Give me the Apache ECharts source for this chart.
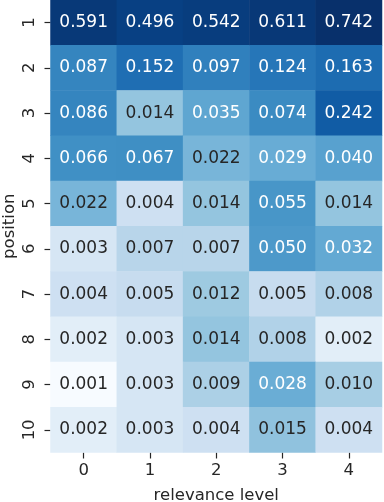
<!DOCTYPE html>
<html lang="en">
<head>
  <meta charset="UTF-8">
  <title>heatmap</title>
  <script src="https://cdn.jsdelivr.net/npm/echarts@6/dist/echarts.min.js"></script>
  <style>
    html, body { margin: 0; padding: 0; background: #fff; }
  </style>
</head>
<body>
  <div id="main" style="width: 384px;height: 502px;"></div>
  <script type="text/javascript">
    var levels = ['0', '1', '2', '3', '4']
    var positions = ['1', '2', '3', '4', '5', '6', '7', '8', '9', '10']
    // one row per position, one column per relevance level
    var row1 = [0.591, 0.496, 0.542, 0.611, 0.742]
    var row2 = [0.087, 0.152, 0.097, 0.124, 0.163]
    var row3 = [0.086, 0.014, 0.035, 0.074, 0.242]
    var row4 = [0.066, 0.067, 0.022, 0.029, 0.040]
    var row5 = [0.022, 0.004, 0.014, 0.055, 0.014]
    var row6 = [0.003, 0.007, 0.007, 0.050, 0.032]
    var row7 = [0.004, 0.005, 0.012, 0.005, 0.008]
    var row8 = [0.002, 0.003, 0.014, 0.008, 0.002]
    var row9 = [0.001, 0.003, 0.009, 0.028, 0.010]
    var row10 = [0.002, 0.003, 0.004, 0.015, 0.004]
    var rows = [row1, row2, row3, row4, row5, row6, row7, row8, row9, row10]

    var blues = ['#f7fbff', '#deebf7', '#c6dbef', '#9ecae1', '#6baed6',
      '#4292c6', '#2171b5', '#08519c', '#08306b']

    var all = [].concat.apply([], rows)
    var lmin = Math.log10(Math.min.apply(null, all))
    var lmax = Math.log10(Math.max.apply(null, all))

    // relative luminance of the Blues colour at fraction t, to pick text colour like seaborn
    function lum(t) {
      var n = blues.length - 1
      var p = Math.min(n - 1e-9, Math.max(0, t * n))
      var i = Math.floor(p), f = p - i
      var a = blues[i], b = blues[i + 1]
      var c = [0, 1, 2].map(function (k) {
        var u = parseInt(a.substr(1 + 2 * k, 2), 16), v = parseInt(b.substr(1 + 2 * k, 2), 16)
        var s = (u + (v - u) * f) / 255
        return s <= 0.03928 ? s / 12.92 : Math.pow((s + 0.055) / 1.055, 2.4)
      })
      return 0.2126 * c[0] + 0.7152 * c[1] + 0.0722 * c[2]
    }

    var data = []
    rows.forEach(function (r, yi) {
      r.forEach(function (v, xi) {
        var lv = Math.log10(v)
        var t = (lv - lmin) / (lmax - lmin)
        data.push({
          value: [xi, yi, v, lv],
          label: { color: lum(t) > 0.408 ? '#262626' : '#ffffff' }
        })
      })
    })

    var font = 'DejaVu Sans'
    var fs = 16.5
    var myChart = echarts.init(document.getElementById('main'))
    myChart.setOption({
      animation: false,
      backgroundColor: '#fff',
      grid: { left: 50.5, right: 2, top: 0, bottom: 49.5, outerBoundsMode: 'none', containLabel: false },
      xAxis: {
        type: 'category',
        data: levels,
        name: 'relevance level',
        nameLocation: 'middle',
        nameGap: 35,
        nameMoveOverlap: false,
        nameTextStyle: { fontFamily: font, fontSize: fs, color: '#262626' },
        axisLine: { show: false },
        axisTick: { show: true, alignWithLabel: true, length: 6, lineStyle: { color: '#262626', width: 1.2 } },
        axisLabel: { fontFamily: font, fontSize: fs, color: '#262626', margin: 10 },
        splitLine: { show: false }
      },
      yAxis: {
        type: 'category',
        data: positions,
        inverse: true,
        name: 'position',
        nameLocation: 'middle',
        nameGap: 32,
        nameMoveOverlap: false,
        nameRotate: 90,
        nameTextStyle: { fontFamily: font, fontSize: fs, color: '#262626' },
        axisLine: { show: false },
        axisTick: { show: true, alignWithLabel: true, length: 6, lineStyle: { color: '#262626', width: 1.2 } },
        axisLabel: { fontFamily: font, fontSize: fs, color: '#262626', rotate: 90, margin: 12 },
        splitLine: { show: false }
      },
      visualMap: {
        show: false,
        dimension: 3,
        min: lmin,
        max: lmax,
        inRange: { color: blues }
      },
      series: [{
        type: 'heatmap',
        data: data,
        itemStyle: { borderWidth: 0 },
        emphasis: { disabled: true },
        label: {
          show: true,
          fontFamily: font,
          fontSize: 17,
          formatter: function (p) { return p.value[2].toFixed(3) }
        }
      }]
    })
  </script>
</body>
</html>
